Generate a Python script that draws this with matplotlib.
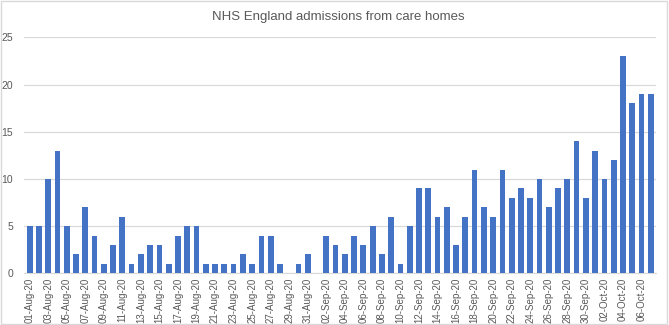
import matplotlib.pyplot as plt
import pandas as pd

plt.rcParams["font.family"] = ["Liberation Sans", "DejaVu Sans"]

# Daily admissions, 01-Aug-20 to 07-Oct-20
dates = pd.date_range("2020-08-01", "2020-10-07", freq="D")
aug = [5, 5, 10, 13, 5, 2, 7, 4, 1, 3, 6, 1, 2, 3, 3, 1, 4, 5, 5, 1,
       1, 1, 1, 2, 1, 4, 4, 1, 0, 1, 2]
sep = [0, 4, 3, 2, 4, 3, 5, 2, 6, 1, 5, 9, 9, 6, 7, 3, 6, 11, 7, 6,
       11, 8, 9, 8, 10, 7, 9, 10, 14, 8]
octo = [13, 10, 12, 23, 18, 19, 19]
admissions = aug + sep + octo
labels = [d.strftime("%d-%b-%y") for d in dates]

fig = plt.figure(figsize=(6.69, 3.25), dpi=100)
ax = fig.add_axes([0.036, 0.159, 0.945, 0.726])

x = range(len(admissions))
ax.bar(x, admissions, width=0.62, color="#4472C4", zorder=3)

ax.set_ylim(0, 25)
ax.set_xlim(-0.6, len(admissions) - 0.4)
ax.set_yticks([0, 5, 10, 15, 20, 25])
ax.set_xticks(list(x)[::2])
ax.set_xticklabels(labels[::2], rotation=90, fontsize=7, color="#595959")
ax.tick_params(axis="y", labelsize=7.5, colors="#595959", length=0, pad=8)
ax.tick_params(axis="x", length=0, pad=3)

ax.grid(axis="y", color="#d9d9d9", linewidth=0.9, zorder=0)
for side in ["top", "right", "left"]:
    ax.spines[side].set_visible(False)
ax.spines["bottom"].set_color("#d9d9d9")

fig.text(0.505, 0.948, "NHS England admissions from care homes",
         ha="center", va="center", fontsize=9.5, color="#595959")

# light frame round the chart
fig.patches.append(plt.Rectangle((0.002, 0.003), 0.995, 0.994, transform=fig.transFigure,
                                 fill=False, edgecolor="#d9d9d9", linewidth=1))

fig.savefig("out.png", dpi=100)
